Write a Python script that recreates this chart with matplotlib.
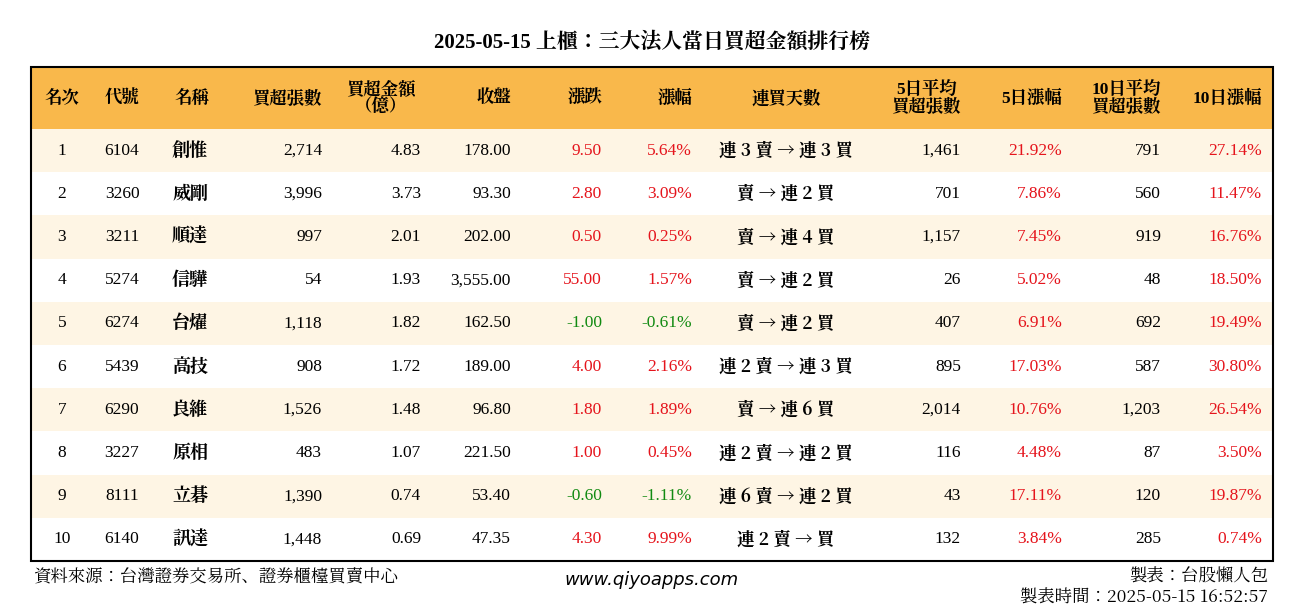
import matplotlib
matplotlib.use("Agg")
import matplotlib.pyplot as plt
from matplotlib.patches import Rectangle

plt.rcParams["font.family"] = ["Liberation Serif", "Noto Serif CJK JP"]

title = "2025-05-15 上櫃：三大法人當日買超金額排行榜"
headers = ["名次", "代號", "名稱", "買超張數", "買超金額\n（億）", "收盤", "漲跌", "漲幅", "連買天數",
           "5日平均\n買超張數", "5日漲幅", "10日平均\n買超張數", "10日漲幅"]
rank = [1, 2, 3, 4, 5, 6, 7, 8, 9, 10]
codes = ["6104", "3260", "3211", "5274", "6274", "5439", "6290", "3227", "8111", "6140"]
names = ["創惟", "威剛", "順達", "信驊", "台燿", "高技", "良維", "原相", "立碁", "訊達"]
net_lots = [2714, 3996, 997, 54, 1118, 908, 1526, 483, 1390, 1448]
net_amt = [4.83, 3.73, 2.01, 1.93, 1.82, 1.72, 1.48, 1.07, 0.74, 0.69]
close = [178.00, 93.30, 202.00, 3555.00, 162.50, 189.00, 96.80, 221.50, 53.40, 47.35]
change = [9.50, 2.80, 0.50, 55.00, -1.00, 4.00, 1.80, 1.00, -0.60, 4.30]
pct = [5.64, 3.09, 0.25, 1.57, -0.61, 2.16, 1.89, 0.45, -1.11, 9.99]
streak = ["連 3 賣 → 連 3 買", "賣 → 連 2 買", "賣 → 連 4 買", "賣 → 連 2 買", "賣 → 連 2 買",
          "連 2 賣 → 連 3 買", "賣 → 連 6 買", "連 2 賣 → 連 2 買", "連 6 賣 → 連 2 買", "連 2 賣 → 買"]
avg5 = [1461, 701, 1157, 26, 407, 895, 2014, 116, 43, 132]
pct5 = [21.92, 7.86, 7.45, 5.02, 6.91, 17.03, 10.76, 4.48, 17.11, 3.84]
avg10 = [791, 560, 919, 48, 692, 587, 1203, 87, 120, 285]
pct10 = [27.14, 11.47, 16.76, 18.50, 19.49, 30.80, 26.54, 3.50, 19.87, 0.74]

RED = "#e5141c"
GREEN = "#118a11"

W, H = 1304, 612
fig = plt.figure(figsize=(W / 100, H / 100), dpi=100)
ax = fig.add_axes([0, 0, 1, 1])
ax.set_xlim(0, W)
ax.set_ylim(H, 0)
ax.axis("off")

x0, x1 = 31, 1273
ytop, yhead = 67, 129
rowh = 43.2

ax.text(652, 42, title, ha="center", va="center", fontsize=15, weight="bold")
ax.add_patch(Rectangle((x0, ytop), x1 - x0, yhead - ytop, color="#f9b84b", lw=0))
for i in range(10):
    if i % 2 == 0:
        ax.add_patch(Rectangle((x0, yhead + i * rowh), x1 - x0, rowh, color="#fef5e4", lw=0))
ax.add_patch(Rectangle((x0, ytop), x1 - x0, yhead + 10 * rowh - ytop, fill=False, ec="black", lw=1.5))

cols = [(62, "center"), (122, "center"), (172, "left"), (322, "right"), (421, "right"), (511, "right"),
        (602, "right"), (692, "right"), (786, "center"), (961, "right"), (1062, "right"), (1161, "right"),
        (1262, "right")]
hdr_pos = [(62, "center"), (122, "center"), (192, "center"), (322, "right"), (381, "center"), (511, "right"),
           (602, "right"), (692, "right"), (786, "center"), (961, "right"), (1062, "right"), (1161, "right"),
           (1262, "right")]
hy = (ytop + yhead) / 2
for h, (x, a) in zip(headers, hdr_pos):
    ax.text(x, hy, h, ha=a, va="center", fontsize=12.5, weight="bold", linespacing=1.0,
            multialignment="center")

def col(v):
    return RED if v > 0 else (GREEN if v < 0 else "black")

fs = 12.5
for i in range(10):
    y = yhead + (i + 0.5) * rowh
    vals = [str(rank[i]), codes[i], names[i], f"{net_lots[i]:,}", f"{net_amt[i]:.2f}", f"{close[i]:,.2f}",
            f"{change[i]:.2f}", f"{pct[i]:.2f}%", streak[i], f"{avg5[i]:,}", f"{pct5[i]:.2f}%",
            f"{avg10[i]:,}", f"{pct10[i]:.2f}%"]
    colors = ["black"] * 6 + [col(change[i]), col(pct[i]), "black", "black", col(pct5[i]), "black", col(pct10[i])]
    for j, (v, c, (x, a)) in enumerate(zip(vals, colors, cols)):
        if j == 2:
            ax.text(x, y, v, ha=a, va="center", fontsize=13, color=c, weight="bold")
        elif j == 8:
            ax.text(x, y, v, ha=a, va="center", fontsize=12.5, color=c, weight="bold",
                    family=["Noto Serif CJK JP"])
        else:
            ax.text(x, y, v, ha=a, va="center", fontsize=fs, color=c)

ax.text(33, 577, "資料來源：台灣證券交易所、證券櫃檯買賣中心", ha="left", va="center", fontsize=12.5)
ax.text(652, 580, "www.qiyoapps.com", ha="center", va="center", fontsize=13, style="italic",
        family="DejaVu Sans")
ax.text(1268, 577, "製表：台股懶人包", ha="right", va="center", fontsize=12.5)
ax.text(1268, 598, "製表時間：2025-05-15 16:52:57", ha="right", va="center", fontsize=12.5,
        family=["Noto Serif CJK JP"])

fig.savefig("out.png", dpi=100)
